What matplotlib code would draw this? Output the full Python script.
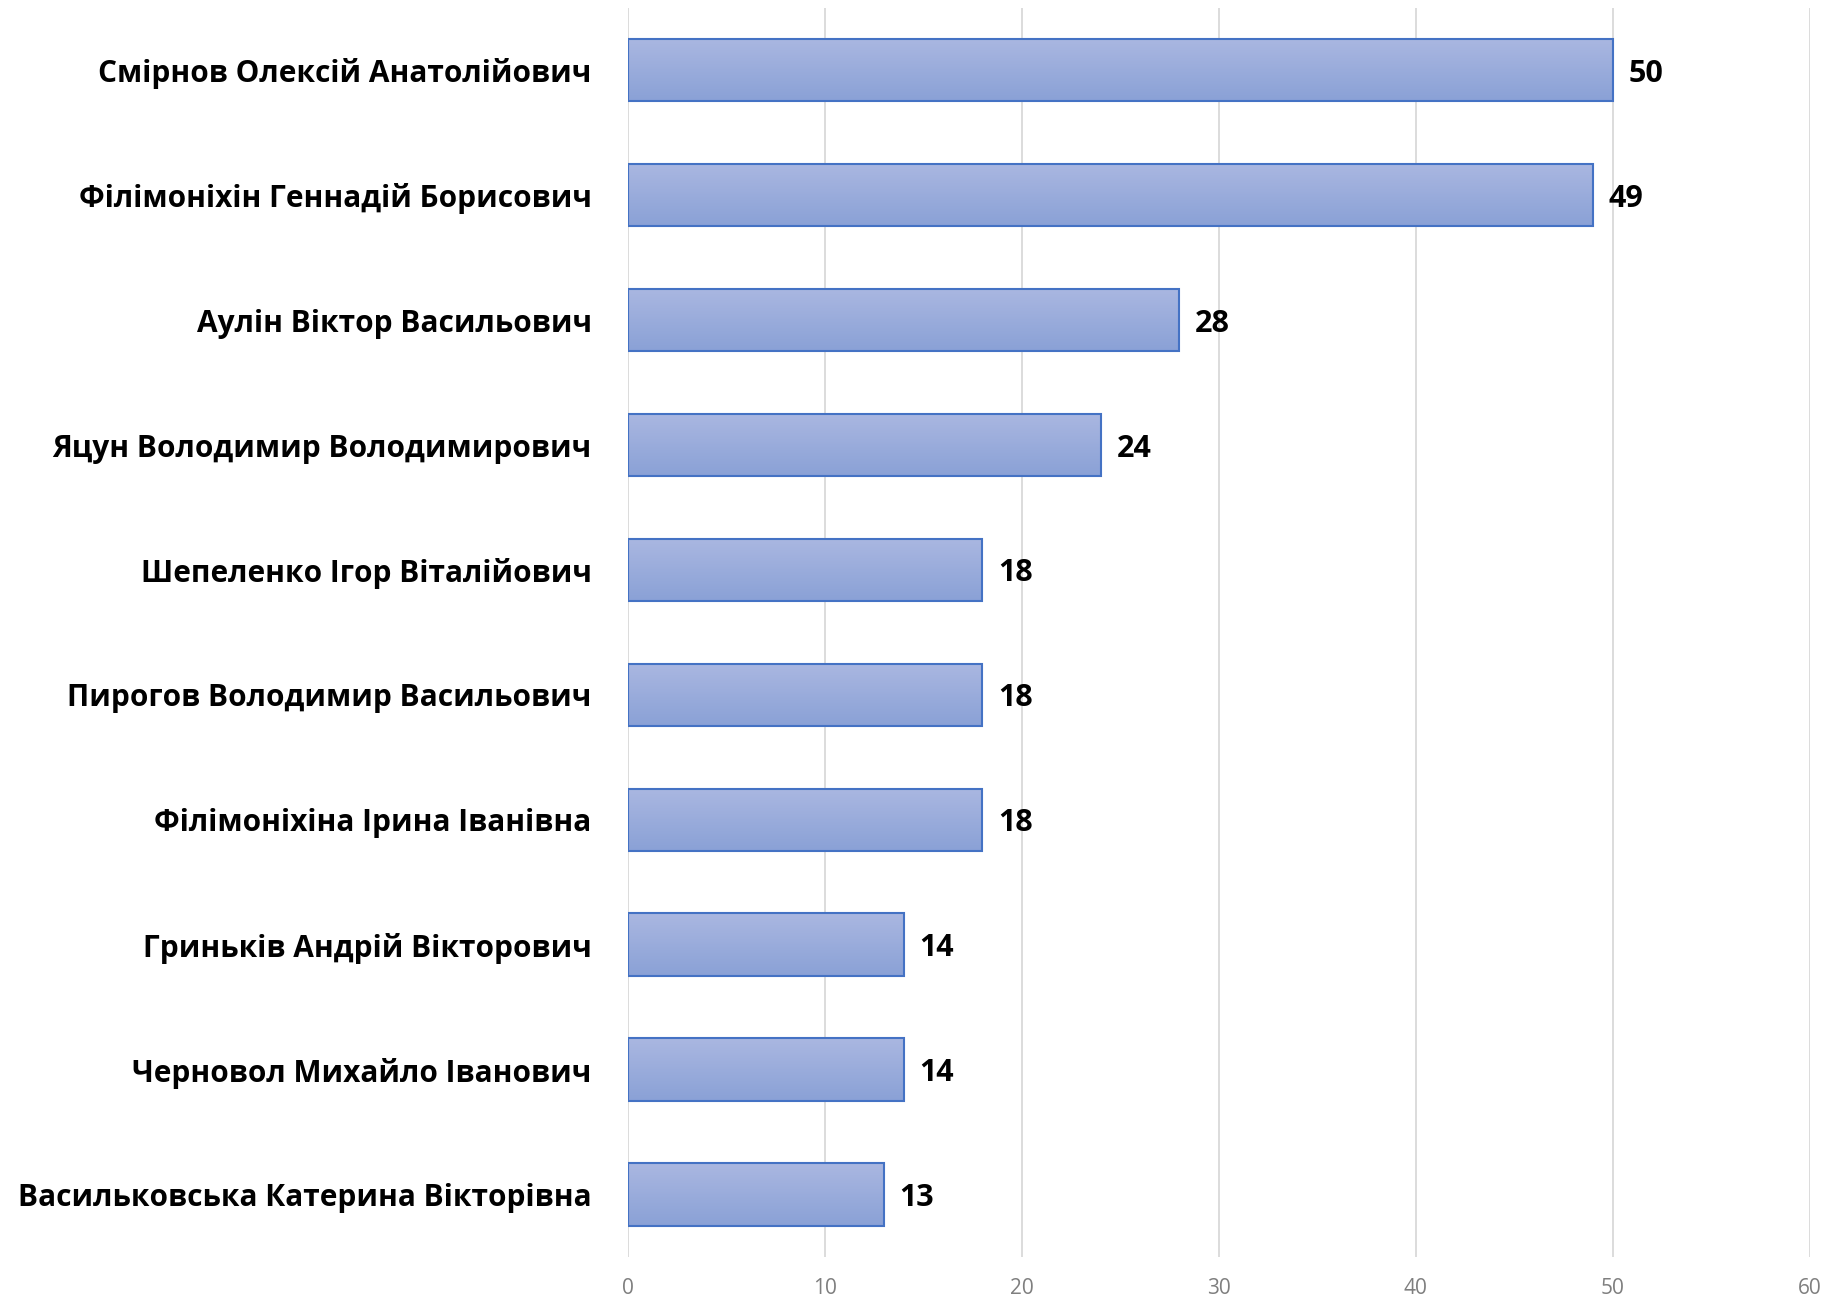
import numpy as np
import matplotlib
matplotlib.use("Agg")
import matplotlib.pyplot as plt
from matplotlib.colors import LinearSegmentedColormap

# data, top to bottom as in the picture
names = [
    "Смірнов Олексій Анатолійович",
    "Філімоніхін Геннадій Борисович",
    "Аулін Віктор Васильович",
    "Яцун Володимир Володимирович",
    "Шепеленко Ігор Віталійович",
    "Пирогов Володимир Васильович",
    "Філімоніхіна Ірина Іванівна",
    "Гриньків Андрій Вікторович",
    "Черновол Михайло Іванович",
    "Васильковська Катерина Вікторівна",
]
values = [50, 49, 28, 24, 18, 18, 18, 14, 14, 13]
xticks = [0, 10, 20, 30, 40, 50, 60]

plt.rcParams["font.family"] = ["Open Sans", "DejaVu Sans"]

fig = plt.figure(figsize=(18.24, 12.99), dpi=100)
ax = fig.add_axes([0.3442, 0.0323, 0.648, 0.9617])

y = np.arange(len(names))
bars = ax.barh(y, values, height=0.5, color="none", edgecolor="#4472C4",
               linewidth=1.5, zorder=3)

# vertical gradient inside each bar, lighter at the top
grad_cmap = LinearSegmentedColormap.from_list("g", ["#AAB7E1", "#8AA1D6"])
grad = np.linspace(0, 1, 100).reshape(-1, 1)
for b in bars:
    x0, y0 = b.get_x(), b.get_y()
    w, h = b.get_width(), b.get_height()
    im = ax.imshow(grad, cmap=grad_cmap, aspect="auto",
                   extent=(x0, x0 + w, y0, y0 + h), origin="lower",
                   zorder=2)
    im.set_clip_path(b)

for yi, v in zip(y, values):
    ax.text(v + 0.8, yi, str(v), va="center_baseline", ha="left",
            fontsize=22, fontweight="bold", color="black")

ax.set_xlim(0, 60)
ax.set_ylim(len(names) - 0.5, -0.5)
ax.set_xticks(xticks)
ax.set_yticks(y)
ax.set_yticklabels(names, fontsize=21.5, fontweight="bold")
ax.tick_params(axis="y", length=0, pad=26)
ax.tick_params(axis="x", length=0, pad=15, labelsize=15, labelcolor="#7F7F7F")
ax.grid(axis="x", color="#D9D9D9", linewidth=1.3, zorder=0)
ax.set_axisbelow(True)
for s in ax.spines.values():
    s.set_visible(False)

fig.savefig("out.png", dpi=100)
